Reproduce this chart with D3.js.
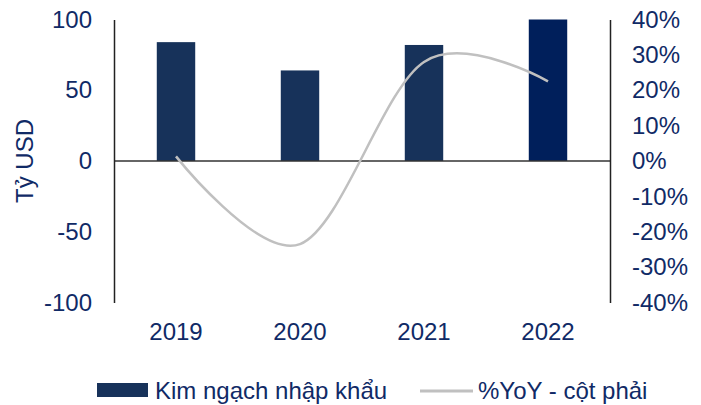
<!DOCTYPE html>
<html>
<head>
<meta charset="utf-8">
<script src="https://cdn.jsdelivr.net/npm/d3@7"></script>
<style>
  body { margin: 0; background: #fff; }
  svg text { font-family: "Liberation Sans", Arial, sans-serif; fill: #102a66; }
</style>
</head>
<body>
<div id="chart"></div>
<script>
const years = ['2019', '2020', '2021', '2022'];
const importValues = [84, 64, 82, 100];   // Tỷ USD
const yoyValues = [1.3, -23.5, 28, 22.5]; // %
const leftTicks = [-100, -50, 0, 50, 100];
const rightTicks = [-40, -30, -20, -10, 0, 10, 20, 30, 40];

const width = 701, height = 405;
const plotLeft = 114, plotRight = 610, plotTop = 19.5, plotBottom = 302.5;
const fontSize = 24;

const svg = d3.select('#chart').append('svg')
  .attr('width', width)
  .attr('height', height);

const x = d3.scaleBand().domain(years).range([plotLeft, plotRight]).padding(0);
const yL = d3.scaleLinear().domain([-100, 100]).range([plotBottom, plotTop]);
const yR = d3.scaleLinear().domain([-40, 40]).range([plotBottom, plotTop]);

const barW = x.bandwidth() * 0.31;

// bars
svg.selectAll('rect.bar')
  .data(years)
  .enter().append('rect')
    .attr('class', 'bar')
    .attr('x', d => x(d) + x.bandwidth() / 2 - barW / 2)
    .attr('y', (d, i) => yL(importValues[i]))
    .attr('width', barW)
    .attr('height', (d, i) => yL(0) - yL(importValues[i]))
    .attr('fill', (d, i) => i === 3 ? '#001f5b' : '#17325a');

// zero line
svg.append('line')
  .attr('x1', plotLeft).attr('x2', plotRight)
  .attr('y1', yL(0)).attr('y2', yL(0))
  .attr('stroke', '#333').attr('stroke-width', 1.5);

// yoy line, smoothed like the spreadsheet
const line = d3.line()
  .x((d, i) => x(years[i]) + x.bandwidth() / 2)
  .y(d => yR(d))
  .curve(d3.curveCatmullRom.alpha(0));

svg.append('path')
  .datum(yoyValues)
  .attr('d', line)
  .attr('fill', 'none')
  .attr('stroke', '#c0c0c0')
  .attr('stroke-width', 2.5);

// axes
const leftAxis = svg.append('g')
  .attr('transform', `translate(${plotLeft},0)`)
  .call(d3.axisLeft(yL).tickValues(leftTicks).tickSize(0).tickPadding(22)
    .tickFormat(d => String(d)));
const rightAxis = svg.append('g')
  .attr('transform', `translate(${plotRight},0)`)
  .call(d3.axisRight(yR).tickValues(rightTicks).tickSize(0).tickPadding(22)
    .tickFormat(d => d + '%'));

[leftAxis, rightAxis].forEach(g => {
  g.select('.domain').attr('stroke', '#222').attr('stroke-width', 1.5);
  g.selectAll('text')
    .attr('font-size', fontSize)
    .attr('font-family', '"Liberation Sans", Arial, sans-serif')
    .attr('fill', '#102a66');
});

// year labels
svg.append('g')
  .attr('transform', `translate(0,${plotBottom})`)
  .call(d3.axisBottom(x).tickSize(0).tickPadding(20.5))
  .call(g => g.select('.domain').remove())
  .selectAll('text')
    .attr('font-size', fontSize)
    .attr('font-family', '"Liberation Sans", Arial, sans-serif')
    .attr('fill', '#102a66');

// y title
svg.append('text')
  .attr('transform', 'translate(33,161) rotate(-90)')
  .attr('text-anchor', 'middle')
  .attr('font-size', fontSize)
  .text('Tỷ USD');

// legend
const legend = svg.append('g');
legend.append('rect')
  .attr('x', 97).attr('y', 383).attr('width', 51).attr('height', 14)
  .attr('fill', '#17325a');
legend.append('text')
  .attr('x', 155).attr('y', 399)
  .attr('font-size', fontSize)
  .text('Kim ngạch nhập khẩu');
legend.append('line')
  .attr('x1', 420).attr('x2', 473).attr('y1', 391).attr('y2', 391)
  .attr('stroke', '#c0c0c0').attr('stroke-width', 3);
legend.append('text')
  .attr('x', 478).attr('y', 399)
  .attr('font-size', fontSize)
  .text('%YoY - cột phải');
</script>
</body>
</html>
